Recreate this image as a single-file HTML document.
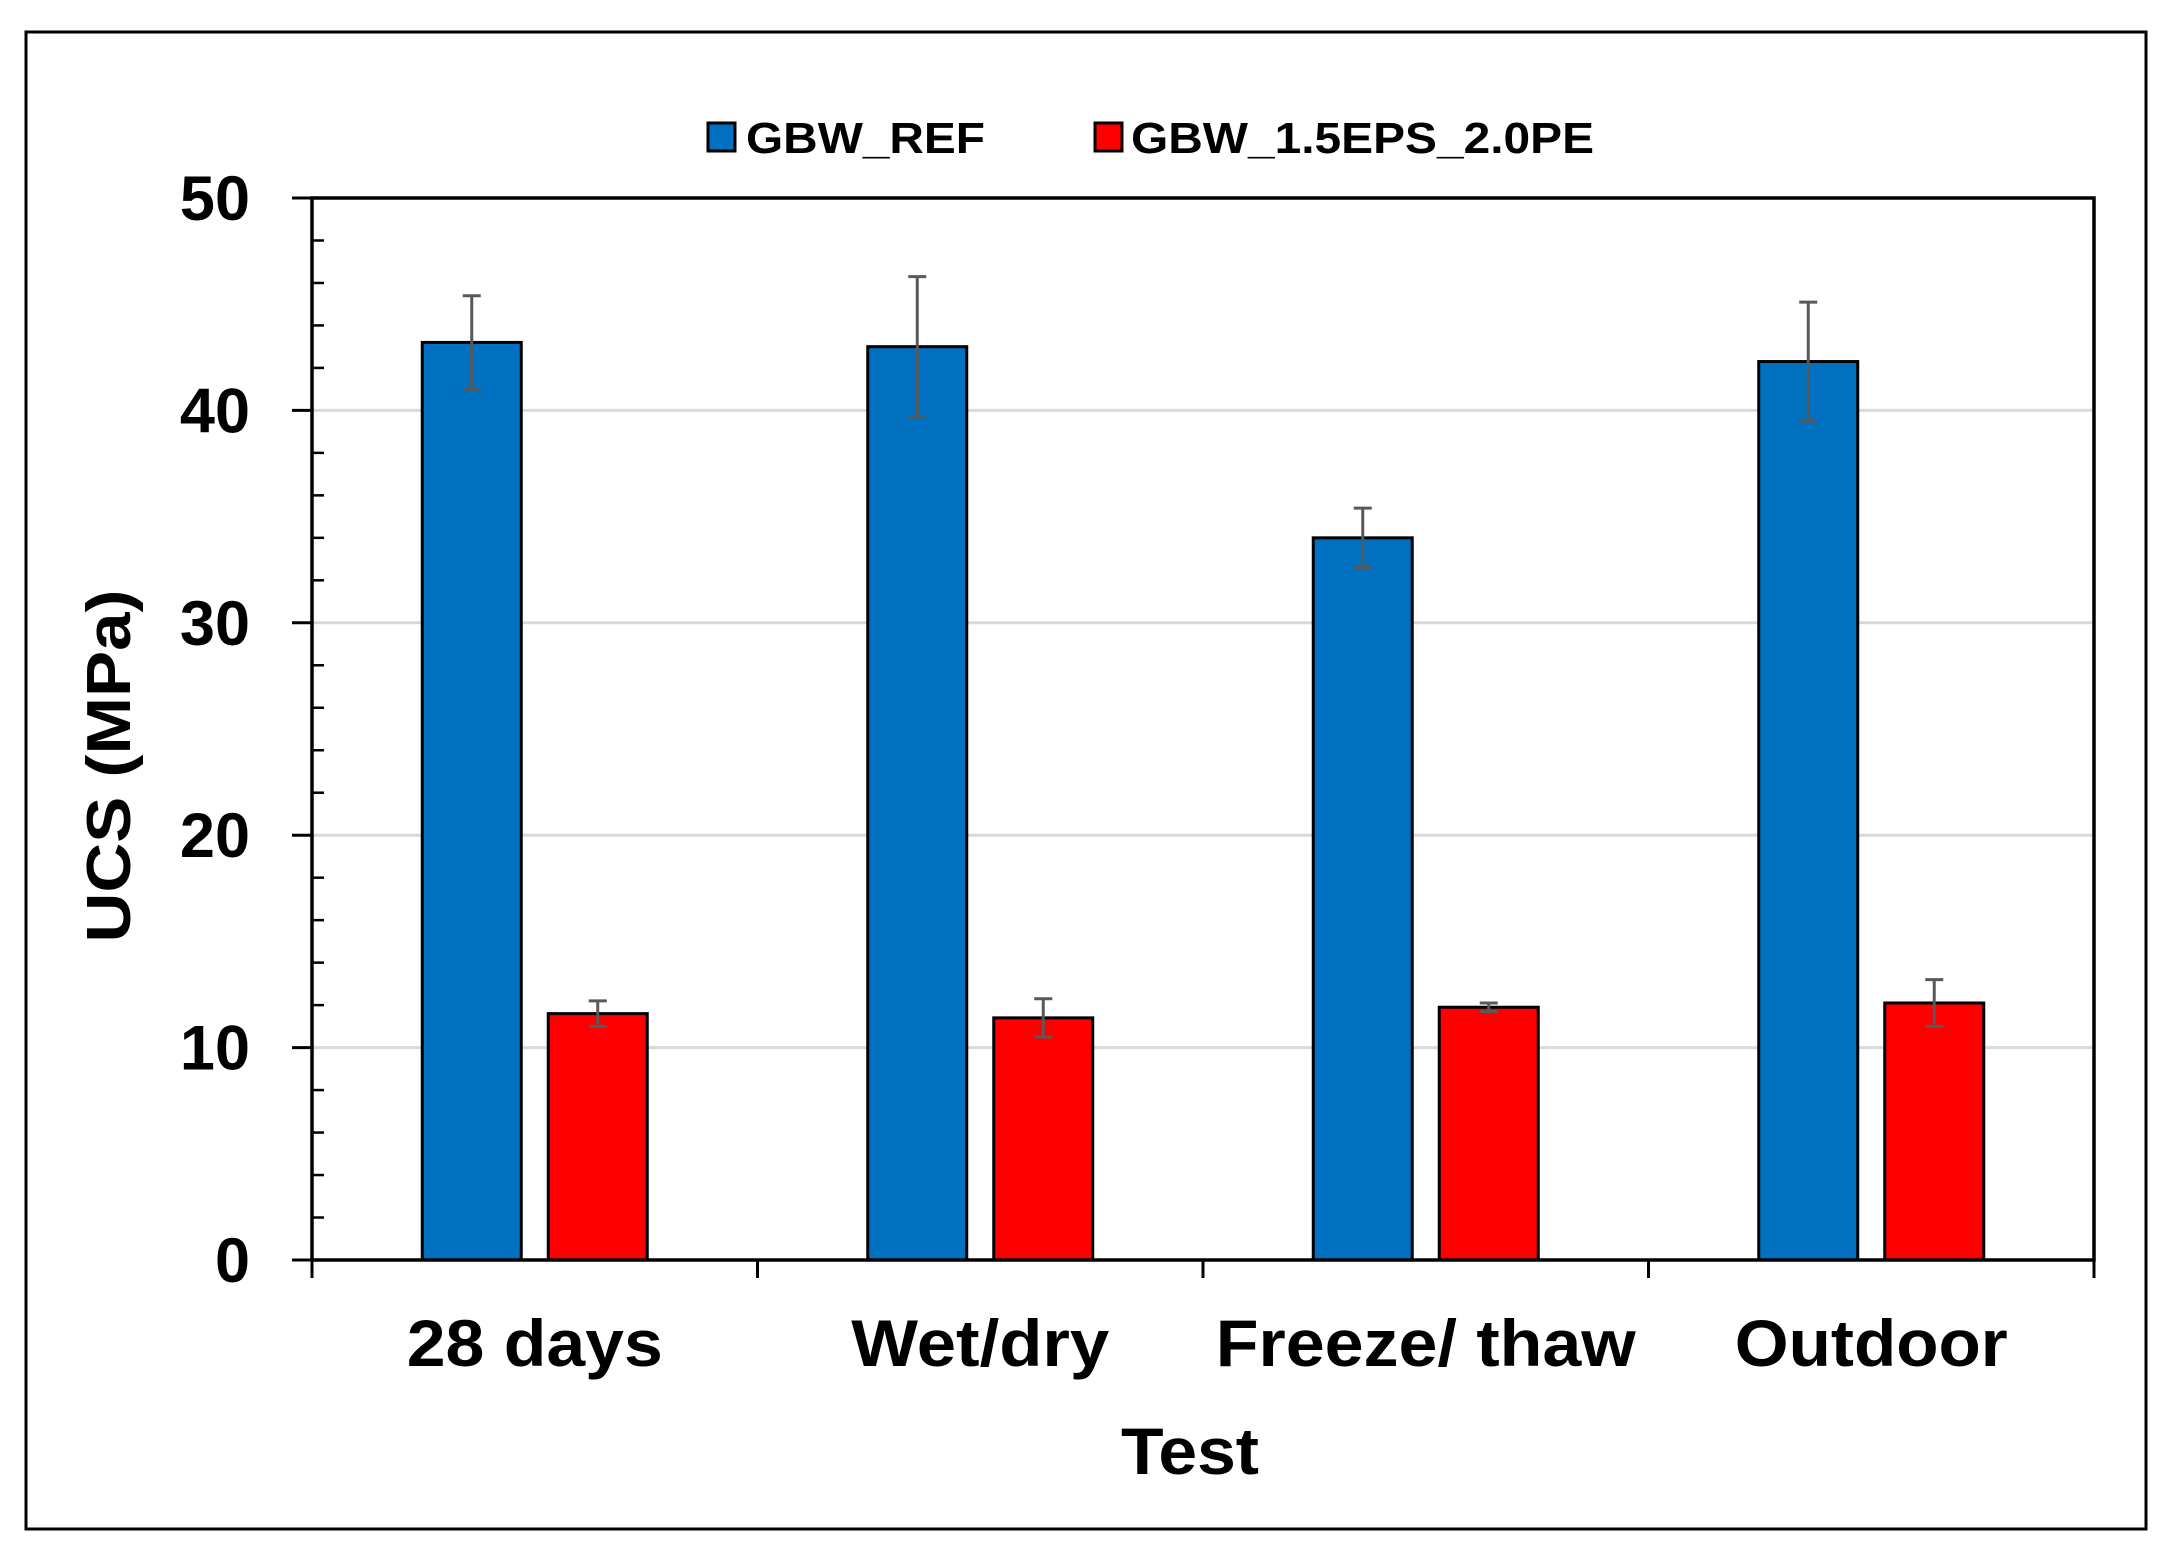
<!DOCTYPE html>
<html><head><meta charset="utf-8"><style>
html,body{margin:0;padding:0;background:#fff;}
svg{display:block;font-family:"Liberation Sans",Arial,sans-serif;font-weight:bold;}
</style></head><body>
<svg id="chart" width="2175" height="1568" viewBox="0 0 2175 1568">
<rect x="26" y="32" width="2120" height="1497" fill="#fff" stroke="#000" stroke-width="3"/>
<g id="grid"></g>
<g id="bars"></g>
<g id="axes"></g>
<g>
 <rect x="708" y="123" width="27" height="28" fill="#0070C0" stroke="#000" stroke-width="3"/>
 <text x="746" y="153" font-size="44" textLength="239" lengthAdjust="spacingAndGlyphs">GBW_REF</text>
 <rect x="1095" y="123" width="27" height="28" fill="#FF0000" stroke="#000" stroke-width="3"/>
 <text x="1131" y="153" font-size="44" textLength="463" lengthAdjust="spacingAndGlyphs">GBW_1.5EPS_2.0PE</text>
</g>
<text x="1190" y="1474" font-size="66" text-anchor="middle" textLength="138" lengthAdjust="spacingAndGlyphs">Test</text>
<text transform="translate(130,766) rotate(-90)" font-size="62" text-anchor="middle" textLength="353" lengthAdjust="spacingAndGlyphs">UCS (MPa)</text>
</svg>
<script>
const categories = ["28 days","Wet/dry","Freeze/ thaw","Outdoor"];
const refValues = [43.2, 43.0, 34.0, 42.3];
const refErrors = [2.2, 3.3, 1.4, 2.8];
const epsValues = [11.6, 11.4, 11.9, 12.1];
const epsErrors = [0.6, 0.9, 0.2, 1.1];
const yTicks = [0,10,20,30,40,50];
const labelWidths = [256, 258, 420, 273];

const NS="http://www.w3.org/2000/svg";
const X0=312, X1=2094, Y0=1260, Y1=198, YMAX=50;
const bandW=(X1-X0)/categories.length;
function y(v){return Y0-(v/YMAX)*(Y0-Y1);}
function bandC(i){return X0+bandW*(i+0.5);}
function mk(tag,attrs,parent){const e=document.createElementNS(NS,tag);for(const k in attrs)e.setAttribute(k,attrs[k]);parent.appendChild(e);return e;}
const grid=document.getElementById('grid'),bars=document.getElementById('bars'),axes=document.getElementById('axes');

yTicks.forEach(t=>{
  if(t>0&&t<YMAX){const g=mk('line',{x1:X0,x2:X1,y1:y(t),y2:y(t),stroke:'#d9d9d9','stroke-width':3},grid);
  
  }
  const tk=mk('line',{x1:X0-20,x2:X0,y1:y(t),y2:y(t),stroke:'#000','stroke-width':3},axes);
  
  
  const lb=mk('text',{x:250,y:y(t)+22,'font-size':63,'text-anchor':'end'},axes);
  lb.textContent=t;
  
  
});
for(let v=2;v<YMAX;v+=2){if(v%10===0)continue;
  const m=mk('line',{x1:X0,x2:X0+12,y1:y(v),y2:y(v),stroke:'#000','stroke-width':2.5},axes);
  
  
}
const BW=99, OFF=63;
function bar(cx,v,err,color,name){
  const r=mk('rect',{x:cx-BW/2,y:y(v),width:BW,height:Y0-y(v),fill:color,stroke:'#000','stroke-width':3},bars);
  
  
  const g=mk('g',{stroke:'#595959','stroke-width':3},bars);
  
  
  mk('line',{x1:cx,x2:cx,y1:y(v+err),y2:y(v-err)},g);
  mk('line',{x1:cx-9,x2:cx+9,y1:y(v+err),y2:y(v+err)},g);
  mk('line',{x1:cx-9,x2:cx+9,y1:y(v-err),y2:y(v-err)},g);
}
categories.forEach((c,i)=>{
  bar(bandC(i)-OFF,refValues[i],refErrors[i],'#0070C0','bar-ref-'+i);
  bar(bandC(i)+OFF,epsValues[i],epsErrors[i],'#FF0000','bar-eps-'+i);
  const t=mk('text',{x:bandC(i),y:1366,'font-size':66,'text-anchor':'middle',textLength:labelWidths[i],lengthAdjust:'spacingAndGlyphs'},axes);
  t.textContent=c;
  
  
});
for(let i=0;i<=categories.length;i++){
  const xx=X0+bandW*i;
  const tk=mk('line',{x1:xx,x2:xx,y1:Y0,y2:Y0+18,stroke:'#000','stroke-width':3},axes);
  
  
}
const frame=mk('rect',{x:X0,y:Y1,width:X1-X0,height:Y0-Y1,fill:'none',stroke:'#000','stroke-width':3.5},axes);


</script>
</body></html>
